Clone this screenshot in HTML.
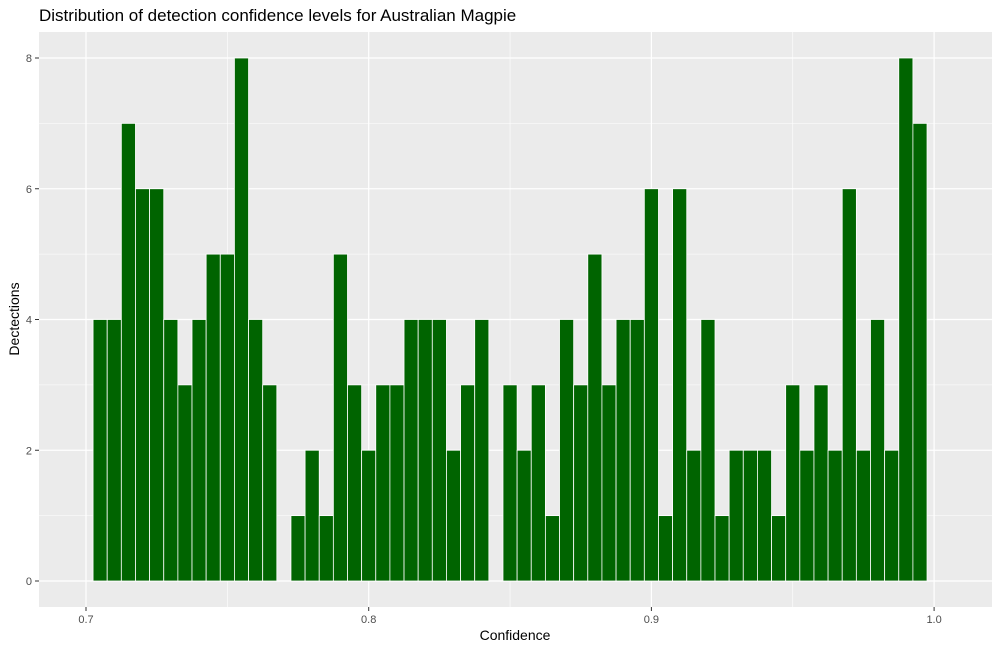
<!DOCTYPE html>
<html><head><meta charset="utf-8"><style>
body{margin:0;background:#fff;font-family:"Liberation Sans",sans-serif;}
svg text{font-family:"Liberation Sans",sans-serif;}
</style></head><body>
<svg id="chart" width="1000" height="651" xmlns="http://www.w3.org/2000/svg">
<text x="39" y="21" font-size="17" fill="#000">Distribution of detection confidence levels for Australian Magpie</text>
<rect x="39" y="32" width="953" height="575" fill="#ebebeb"/>
<g id="grid"></g><g id="bars"></g><g id="axes"></g>
<text x="515" y="640" font-size="14" text-anchor="middle">Confidence</text>
<text transform="translate(19,319) rotate(-90)" font-size="14" text-anchor="middle">Dectections</text>
</svg>
<script>
const binCenters = [0.705,0.71,0.715,0.72,0.725,0.73,0.735,0.74,0.745,0.75,0.755,0.76,0.765,0.77,0.775,0.78,0.785,0.79,0.795,0.8,0.805,0.81,0.815,0.82,0.825,0.83,0.835,0.84,0.845,0.85,0.855,0.86,0.865,0.87,0.875,0.88,0.885,0.89,0.895,0.9,0.905,0.91,0.915,0.92,0.925,0.93,0.935,0.94,0.945,0.95,0.955,0.96,0.965,0.97,0.975,0.98,0.985,0.99,0.995];
const counts = [4,4,7,6,6,4,3,4,5,5,8,4,3,0,1,2,1,5,3,2,3,3,4,4,4,2,3,4,0,3,2,3,1,4,3,5,3,4,4,6,1,6,2,4,1,2,2,2,1,3,2,3,2,6,2,4,2,8,7];
const xTicks = [0.7,0.8,0.9,1.0];
const xTickLabels = ["0.7","0.8","0.9","1.0"];
const yTicks = [0,2,4,6,8];
const binWidth = 0.005;
const NS="http://www.w3.org/2000/svg";
const X = v => 86 + (v-0.7)*2827;
const Y = v => 581 - v*65.375;
function mk(tag, attrs, parent){const e=document.createElementNS(NS,tag);for(const k in attrs)e.setAttribute(k,attrs[k]);parent.appendChild(e);return e;}
const grid=document.getElementById('grid'), bars=document.getElementById('bars'), axes=document.getElementById('axes');
// minor grid
for(let i=0;i<xTicks.length-1;i++){const v=(xTicks[i]+xTicks[i+1])/2;const l=mk('line',{x1:X(v),x2:X(v),y1:32,y2:607,stroke:'#fff','stroke-width':0.6},grid);}
for(let i=0;i<yTicks.length-1;i++){const v=(yTicks[i]+yTicks[i+1])/2;const l=mk('line',{x1:39,x2:992,y1:Y(v),y2:Y(v),stroke:'#fff','stroke-width':0.6},grid);}
xTicks.forEach((v,i)=>{
 const l=mk('line',{x1:X(v),x2:X(v),y1:32,y2:607,stroke:'#fff','stroke-width':1.2},grid);
 
 
 const t=mk('line',{x1:X(v),x2:X(v),y1:607,y2:611,stroke:'#333','stroke-width':1},axes);
 
 
 const tx=mk('text',{x:X(v),y:623,'font-size':11,fill:'#4d4d4d','text-anchor':'middle'},axes);
 tx.textContent=xTickLabels[i];
 
 
});
yTicks.forEach(v=>{
 const l=mk('line',{x1:39,x2:992,y1:Y(v),y2:Y(v),stroke:'#fff','stroke-width':1.2},grid);
 
 
 const t=mk('line',{x1:35,x2:39,y1:Y(v),y2:Y(v),stroke:'#333','stroke-width':1},axes);
 
 
 const tx=mk('text',{x:32,y:Y(v)+4,'font-size':11,fill:'#4d4d4d','text-anchor':'end'},axes);
 tx.textContent=String(v);
 
 
});
binCenters.forEach((c,i)=>{
 const n=counts[i]; if(!n) return;
 const x0=X(c-binWidth/2), x1=X(c+binWidth/2);
 const r=mk('rect',{x:x0,y:Y(n),width:x1-x0,height:Y(0)-Y(n),fill:'#006400',stroke:'#fff','stroke-width':0.8},bars);
 
 
});
</script>
</body></html>
